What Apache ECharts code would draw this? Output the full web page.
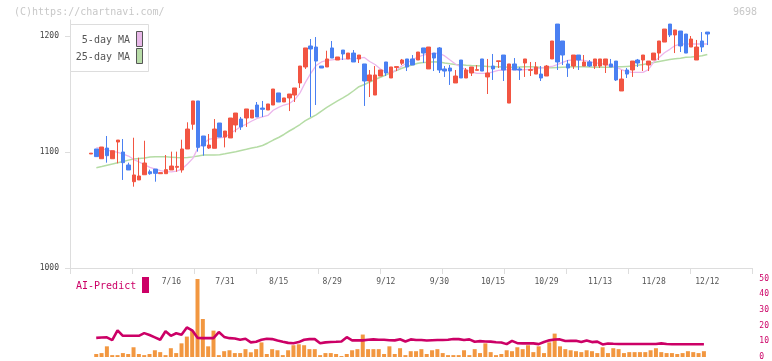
<!DOCTYPE html>
<html><head><meta charset="utf-8">
<style>html,body{margin:0;padding:0;background:#fff}#c{width:772px;height:361px}</style>
<script src="https://cdn.jsdelivr.net/npm/echarts@6/dist/echarts.min.js"></script>
</head><body><div id="c"></div>
<script>
const dates = ['6/25','6/26','6/27','6/30','7/1','7/2','7/3','7/4','7/7','7/8','7/9','7/10','7/11','7/14','7/15','7/16','7/17','7/18','7/22','7/23','7/24','7/25','7/28','7/29','7/30','7/31','8/1','8/4','8/5','8/6','8/7','8/8','8/12','8/13','8/14','8/15','8/18','8/19','8/20','8/21','8/22','8/25','8/26','8/27','8/28','8/29','9/1','9/2','9/3','9/4','9/5','9/8','9/9','9/10','9/11','9/12','9/16','9/17','9/18','9/19','9/22','9/24','9/25','9/26','9/29','9/30','10/1','10/2','10/3','10/6','10/7','10/8','10/9','10/10','10/14','10/15','10/16','10/17','10/20','10/21','10/22','10/23','10/24','10/27','10/28','10/29','10/30','10/31','11/4','11/5','11/6','11/7','11/10','11/11','11/12','11/13','11/14','11/17','11/18','11/19','11/20','11/21','11/25','11/26','11/27','11/28','12/1','12/2','12/3','12/4','12/5','12/8','12/9','12/10','12/11','12/12'];

const opens = [1098.3,1102.6,1094.2,1103.4,1094.2,1108.6,1100.0,1088.8,1074.4,1075.9,
1080.4,1083.0,1085.3,1081.3,1081.3,1084.5,1086.8,1084.5,1102.6,1123.9,
1144.0,1113.8,1103.4,1103.2,1125.0,1112.9,1112.1,1123.3,1128.4,1129.3,
1129.3,1140.5,1137.9,1136.2,1140.5,1150.9,1143.1,1146.6,1149.1,1159.5,
1173.3,1191.4,1190.5,1174.1,1173.3,1189.7,1179.3,1187.9,1180.2,1185.3,
1180.2,1175.9,1161.2,1149.1,1165.5,1177.6,1163.8,1172.9,1176.5,1180.2,
1180.2,1179.3,1189.7,1171.6,1185.3,1189.7,1171.6,1172.4,1159.5,1179.3,
1163.8,1168.1,1170.4,1180.2,1164.7,1174.1,1178.0,1183.6,1142.2,1175.9,
1171.6,1176.7,1170.4,1167.2,1167.2,1165.5,1180.2,1210.3,1195.7,1175.9,
1174.1,1183.6,1174.1,1177.6,1174.1,1174.1,1175.0,1175.9,1178.4,1152.6,
1170.7,1170.7,1179.3,1179.3,1175.0,1179.3,1185.3,1194.8,1210.3,1200.9,
1204.3,1201.7,1190.5,1179.3,1195.7,1203.4];

const closes = [1099.0,1096.0,1104.3,1096.8,1101.1,1110.3,1090.8,1084.5,1080.2,1079.3,
1090.5,1081.3,1081.6,1082.2,1084.8,1087.9,1087.6,1102.6,1119.8,1144.0,
1104.0,1105.2,1106.0,1119.8,1112.9,1118.1,1129.3,1133.6,1121.6,1137.1,
1136.2,1130.2,1136.8,1141.4,1154.3,1143.1,1146.6,1150.0,1155.2,1174.1,
1189.7,1188.8,1178.4,1172.4,1180.2,1181.0,1181.9,1184.5,1185.3,1177.6,
1183.6,1161.2,1166.4,1166.4,1170.7,1168.1,1173.3,1173.6,1179.3,1173.3,
1175.0,1186.2,1185.3,1190.5,1181.0,1170.7,1169.8,1169.8,1165.5,1163.8,
1170.7,1173.3,1171.0,1169.8,1168.1,1171.6,1178.6,1170.7,1175.9,1170.7,
1170.7,1180.2,1171.0,1173.3,1163.8,1174.1,1195.7,1177.6,1183.6,1172.4,
1183.6,1179.3,1177.6,1174.1,1180.2,1180.2,1180.2,1173.3,1162.1,1162.9,
1167.2,1178.4,1176.7,1183.6,1178.4,1185.3,1195.7,1206.0,1200.9,1205.2,
1191.4,1185.3,1197.4,1190.5,1190.5,1201.7];

const lows = [1098.3,1096.0,1094.2,1090.8,1094.2,1090.2,1075.9,1084.5,1070.1,1075.9,
1080.4,1080.4,1074.4,1081.3,1081.3,1084.5,1083.0,1082.2,1102.6,1119.2,
1100.3,1096.8,1102.6,1103.2,1112.9,1104.0,1112.1,1117.0,1119.0,1121.6,
1129.3,1130.2,1130.2,1136.2,1140.5,1143.1,1143.1,1135.3,1143.1,1155.2,
1171.6,1130.2,1140.5,1172.4,1173.3,1181.0,1179.3,1179.3,1180.2,1177.6,
1176.7,1139.7,1147.4,1149.1,1165.5,1165.5,1163.8,1169.8,1175.0,1169.8,
1175.0,1179.3,1176.7,1171.6,1169.8,1168.1,1164.7,1157.8,1159.5,1163.8,
1163.8,1165.5,1170.4,1169.8,1150.0,1162.1,1172.4,1161.2,1142.2,1170.7,
1162.1,1164.7,1165.5,1167.2,1161.2,1165.5,1180.2,1170.7,1175.0,1164.7,
1171.6,1170.7,1174.1,1173.3,1171.6,1172.4,1168.1,1173.3,1161.2,1152.6,
1163.8,1164.7,1173.3,1169.8,1169.8,1179.3,1179.3,1194.8,1199.1,1185.3,
1186.2,1185.3,1190.5,1179.3,1186.2,1192.2];

const highs = [1099.0,1102.6,1104.3,1113.8,1101.1,1110.3,1111.2,1090.8,1112.3,1095.1,
1109.7,1084.8,1085.3,1082.2,1097.4,1100.3,1100.3,1110.6,1125.6,1144.0,
1144.0,1113.8,1115.5,1128.4,1125.0,1118.1,1129.3,1133.6,1130.2,1137.1,
1136.2,1143.1,1144.0,1141.4,1154.3,1150.9,1146.6,1150.0,1155.2,1174.1,
1189.7,1197.4,1199.1,1174.1,1187.3,1195.7,1181.9,1187.9,1185.3,1187.9,
1183.6,1175.9,1170.7,1174.1,1170.7,1177.6,1173.3,1173.6,1180.2,1180.2,
1183.6,1186.2,1189.7,1190.5,1185.3,1190.5,1174.1,1175.0,1170.7,1179.3,
1172.4,1173.3,1175.0,1180.2,1180.2,1184.5,1178.6,1183.6,1175.9,1181.0,
1173.3,1180.2,1177.6,1177.6,1174.1,1175.0,1195.7,1210.3,1195.7,1179.3,
1183.6,1183.6,1183.6,1179.3,1180.2,1180.2,1180.2,1180.2,1178.4,1170.7,
1172.4,1178.4,1180.2,1183.6,1178.4,1185.3,1195.7,1206.0,1210.3,1205.2,
1204.3,1201.7,1200.0,1196.6,1203.4,1203.4];

const ma5 = [null,1103.7,1103.2,1101.5,1100.8,1099.6,1098.2,1096.5,1093.5,1091.4,
1089.0,1086.7,1085.3,1084.0,1083.0,1082.8,1083.5,1085.5,1089.7,1094.5,
1104.0,1107.3,1111.0,1111.8,1112.1,1112.9,1116.0,1119.0,1122.0,1124.1,
1126.7,1128.9,1130.2,1131.5,1136.0,1138.5,1140.5,1141.8,1145.0,1151.0,
1160.0,1167.8,1174.5,1177.6,1179.0,1179.5,1180.0,1180.0,1180.2,1180.5,
1180.8,1181.5,1178.0,1175.4,1171.6,1169.0,1168.1,1170.7,1174.1,1176.7,
1179.7,1181.9,1183.6,1184.5,1184.9,1185.1,1182.8,1179.3,1175.9,1173.3,
1170.7,1169.0,1167.8,1167.8,1167.8,1169.0,1170.3,1170.7,1171.1,1171.1,
1170.7,1171.0,1171.3,1171.6,1172.4,1173.3,1173.7,1175.4,1177.2,1178.9,
1179.3,1179.3,1178.9,1178.0,1176.9,1176.4,1175.3,1174.4,1173.3,1171.0,
1169.2,1168.7,1168.7,1168.7,1171.0,1177.5,1181.5,1185.5,1188.5,1191.8,
1193.0,1193.1,1193.1,1193.1,1193.1,1193.1];

const ma25 = [null,1086.5,1087.5,1088.6,1089.7,1090.8,1091.8,1093.0,1093.9,1094.4,
1094.9,1095.6,1096.0,1095.9,1095.8,1095.5,1095.2,1095.1,1095.3,1095.8,
1096.6,1097.4,1097.4,1097.4,1097.7,1098.5,1099.4,1100.3,1101.3,1102.3,
1103.4,1104.3,1105.6,1107.8,1110.3,1112.5,1115.1,1118.1,1120.7,1123.7,
1127.0,1129.5,1132.0,1135.3,1138.5,1141.3,1144.0,1146.7,1149.5,1152.8,
1156.3,1158.2,1160.3,1162.5,1164.4,1166.4,1168.5,1170.3,1172.2,1173.7,
1175.2,1176.5,1177.2,1177.4,1177.8,1177.6,1176.7,1176.0,1175.5,1175.2,
1174.8,1174.5,1174.3,1174.1,1173.8,1173.5,1173.4,1173.3,1173.1,1173.0,
1173.3,1173.4,1173.5,1173.3,1172.8,1172.7,1172.7,1172.9,1173.1,1173.3,
1173.4,1173.5,1173.4,1173.3,1173.1,1173.0,1173.0,1173.1,1173.4,1173.5,
1173.8,1174.1,1174.7,1175.4,1176.2,1177.1,1178.0,1178.9,1179.7,1180.3,
1180.9,1181.6,1181.9,1182.3,1182.9,1184.1];

const volumes = [null,1.9,2.5,6.8,1.2,1.2,2.5,1.9,6.2,1.9,
1.2,1.9,4.3,3.1,1.2,5.6,2.5,8.7,13.0,16.8,
49.7,24.2,6.8,16.8,1.2,3.7,4.3,2.5,2.5,5.0,
3.0,5.0,9.3,1.9,5.0,4.3,1.2,4.3,7.5,8.1,
7.5,5.0,5.0,1.2,2.5,2.5,1.9,0.6,1.9,4.3,
5.0,14.3,5.0,5.0,5.0,1.9,6.8,1.9,5.6,1.2,
3.7,3.7,5.0,1.9,4.3,5.0,2.5,1.2,1.2,1.2,
4.3,1.2,5.0,2.5,8.7,3.1,1.2,1.9,4.3,3.7,
6.2,5.0,7.5,3.1,6.8,2.5,9.3,14.9,6.8,5.0,
4.3,3.7,3.1,4.3,3.7,2.5,6.2,2.5,5.6,5.0,
2.5,3.1,3.1,3.1,3.1,4.3,5.6,3.1,2.5,2.5,
1.9,2.5,3.7,3.1,2.5,3.7];

const aiPredict = [null,12.2,12.4,12.5,10.8,17.0,13.5,13.5,13.5,13.5,
15.2,14.0,12.5,11.0,16.4,13.5,15.1,14.1,18.8,17.0,
12.2,12.0,12.0,12.0,15.9,12.8,12.0,11.8,11.0,11.6,
9.3,9.7,11.0,11.6,11.4,10.5,9.7,9.0,8.8,9.5,
11.0,11.4,11.4,8.8,9.3,9.6,9.7,9.9,12.6,10.6,
10.6,10.6,11.0,11.2,11.0,11.0,10.7,10.6,11.3,9.9,
11.2,10.8,10.8,10.5,10.7,10.8,10.8,11.0,11.5,11.4,
10.8,11.2,9.7,10.1,9.9,9.8,9.4,9.2,8.2,10.3,
8.8,8.7,8.7,8.7,8.2,9.6,10.6,11.1,11.2,10.2,
10.3,10.3,9.5,10.5,9.5,9.8,8.0,8.6,8.4,8.3,
8.3,8.3,8.3,8.3,8.3,8.3,8.3,8.7,8.3,8.1,
8.1,8.1,8.1,8.1,8.1,8.1];

const priceTicks = [1000, 1100, 1200];
const dateLabelIdx = [15, 25, 35, 45, 55, 65, 75, 85, 95, 105, 115];

const X_MIN = -3.92, X_MAX = 123.34;
const Y_MAX = 1000 + 248 / 1.16;
const FONT = 'DejaVu Sans Mono';
const UP = '#f25542', DOWN = '#4a80f2';

const pair = arr => arr.map((v, i) => [i, v]).filter(p => p[1] != null);
const candleData = opens.map((o, i) => [i, o, closes[i], lows[i], highs[i]]);
const xTickVals = Array.from({length: 12}, (_, k) => {
  let v = X_MIN + k * (X_MAX - X_MIN) / 11;
  if (k === 0) v += 1e-6; if (k === 11) v -= 1e-6;
  return v;
});

const chart = echarts.init(document.getElementById('c'), null, {renderer: 'canvas'});
chart.setOption({
  animation: false,
  backgroundColor: '#ffffff',
  grid: [
    {left: 70, right: 20, top: 20, height: 248},
    {left: 70, right: 20, top: 278.5, height: 80.5}
  ],
  xAxis: [
    {type: 'value', gridIndex: 0, min: X_MIN, max: X_MAX,
     axisLine: {show: true, onZero: false, lineStyle: {color: '#dddddd', width: 1}},
     axisTick: {show: true, customValues: xTickVals, length: 6, lineStyle: {color: '#dddddd'}},
     axisLabel: {show: true, customValues: dateLabelIdx, formatter: v => dates[Math.round(v)],
       margin: 10, fontFamily: FONT, fontSize: 8, color: '#555555'},
     splitLine: {show: false}},
    {type: 'value', gridIndex: 1, min: X_MIN, max: X_MAX, show: false, splitLine: {show: false},
     axisLine: {onZero: false}}
  ],
  yAxis: [
    {type: 'value', gridIndex: 0, min: 1000, max: Y_MAX,
     axisLine: {show: true, onZero: false, lineStyle: {color: '#dddddd', width: 1}},
     axisTick: {show: true, customValues: priceTicks, length: 5, lineStyle: {color: '#dddddd'}},
     axisLabel: {show: true, customValues: priceTicks, formatter: v => String(Math.round(v)),
       margin: 11, fontFamily: FONT, fontSize: 8, color: '#444444'},
     splitLine: {show: false}},
    {type: 'value', gridIndex: 1, position: 'right', min: 0, max: 50, interval: 10,
     axisLine: {show: false, onZero: false}, axisTick: {show: false},
     axisLabel: {show: true, margin: 11, fontFamily: FONT, fontSize: 8, color: '#cc0066'},
     splitLine: {show: false}}
  ],
  series: [
    {name: '25-day MA', type: 'line', xAxisIndex: 0, yAxisIndex: 0, data: pair(ma25),
     showSymbol: false, symbol: 'none', z: 1, lineStyle: {color: '#b5dca5', width: 1.5}},
    {name: '5-day MA', type: 'line', xAxisIndex: 0, yAxisIndex: 0, data: pair(ma5),
     showSymbol: false, symbol: 'none', z: 1, lineStyle: {color: '#ecb6ec', width: 1.3}},
    {name: 'price', type: 'candlestick', xAxisIndex: 0, yAxisIndex: 0, data: candleData,
     encode: {x: 0, y: [1, 2, 3, 4]}, barWidth: 4, z: 3,
     itemStyle: {color: UP, color0: DOWN, borderColor: UP, borderColor0: DOWN, borderWidth: 1}},
    {name: 'volume', type: 'bar', xAxisIndex: 1, yAxisIndex: 1, data: pair(volumes),
     barWidth: 4, z: 2, itemStyle: {color: '#f29740'}},
    {name: 'AI-Predict', type: 'line', xAxisIndex: 1, yAxisIndex: 1, data: pair(aiPredict),
     showSymbol: false, symbol: 'none', z: 4, lineStyle: {color: '#cc0066', width: 2.6}}
  ],
  graphic: {elements: [
    {type: 'text', z: 100, style: {text: '(C)https://chartnavi.com/', x: 14, y: 12.5, fill: '#c8c8c8',
      font: '10px "DejaVu Sans Mono"', textAlign: 'left', textVerticalAlign: 'middle', align: 'left', verticalAlign: 'middle'}},
    {type: 'text', z: 100, style: {text: '9698', x: 757, y: 12.5, fill: '#c8c8c8',
      font: '10px "DejaVu Sans Mono"', textAlign: 'right', textVerticalAlign: 'middle', align: 'right', verticalAlign: 'middle'}},
    {type: 'rect', z: 100, shape: {x: 70.5, y: 24.5, width: 78, height: 47},
      style: {fill: '#ffffff', stroke: '#dddddd', lineWidth: 1}},
    {type: 'text', z: 101, style: {text: '5-day MA', x: 130, y: 40, fill: '#555555',
      font: '10px "DejaVu Sans Mono"', textAlign: 'right', textVerticalAlign: 'middle', align: 'right', verticalAlign: 'middle'}},
    {type: 'rect', z: 101, shape: {x: 136.5, y: 31.5, width: 6, height: 15},
      style: {fill: '#e8b8e8', stroke: '#555555', lineWidth: 1}},
    {type: 'text', z: 101, style: {text: '25-day MA', x: 130, y: 57, fill: '#555555',
      font: '10px "DejaVu Sans Mono"', textAlign: 'right', textVerticalAlign: 'middle', align: 'right', verticalAlign: 'middle'}},
    {type: 'rect', z: 101, shape: {x: 136.5, y: 48.5, width: 6, height: 15},
      style: {fill: '#b8dca8', stroke: '#555555', lineWidth: 1}},
    {type: 'text', z: 100, style: {text: 'AI-Predict', x: 76, y: 286, fill: '#cc0066',
      font: '10px "DejaVu Sans Mono"', textAlign: 'left', textVerticalAlign: 'middle', align: 'left', verticalAlign: 'middle'}},
    {type: 'rect', z: 100, shape: {x: 142, y: 277, width: 7, height: 16},
      style: {fill: '#cc0066'}}
  ]}
});
</script></body></html>
